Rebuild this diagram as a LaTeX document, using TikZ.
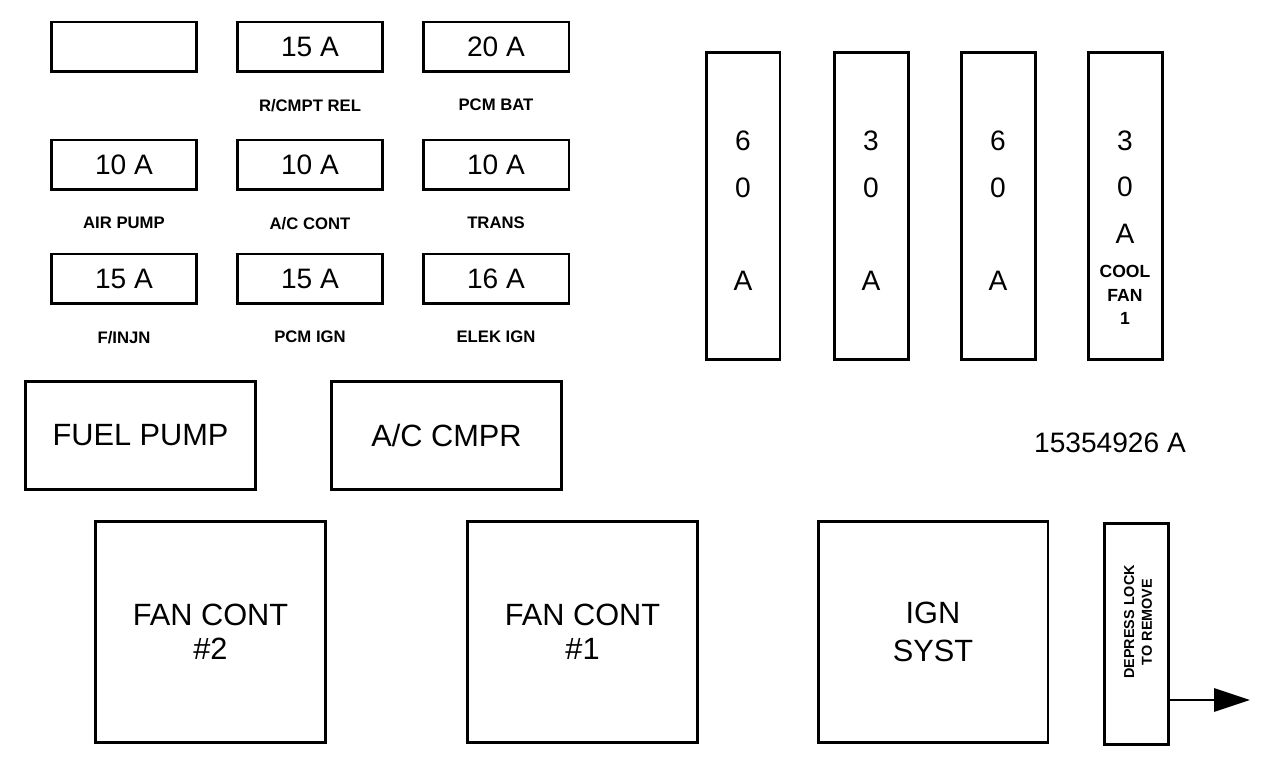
\documentclass[tikz,border=0pt]{standalone}
\usepackage{fontspec}
\setmainfont{Liberation Sans}
\usetikzlibrary{positioning,arrows.meta}

\begin{document}
\begin{tikzpicture}[
  x=0.02cm, y=-0.02cm,
  fuse/.style={draw, line width=1.7pt, minimum width=2.92cm, minimum height=1cm,
    inner sep=0pt, font=\fontsize{16}{18}\selectfont},
  lbl/.style={font=\fontsize{9.5}{11}\selectfont\bfseries, inner sep=1pt},
  maxi/.style={draw, line width=1.7pt, minimum width=1.48cm, minimum height=6.16cm, inner sep=0pt},
  amp/.style={align=center, inner sep=0pt, font=\fontsize{16}{26.5}\selectfont},
  relay/.style={draw, line width=1.7pt, minimum width=4.6cm, minimum height=2.18cm,
    font=\fontsize{17.5}{20}\selectfont},
  big/.style={draw, line width=1.7pt, minimum width=4.6cm, minimum height=4.44cm,
    align=center, font=\fontsize{17.5}{19.5}\selectfont},
  >=Latex, line width=1.7pt, node distance=0.45cm
]
\useasboundingbox (0,0) rectangle (1280,766);

\node[fuse] (blank) at (124,47) {};
\node[fuse] (rcmpt) at (310,47) {15 A};
\node[fuse] (pcmbat) at (496,47) {20 A};
\node[lbl, below=of rcmpt] (rcmptl) {R/CMPT REL};
\node[lbl, below=of pcmbat] (pcmbatl) {PCM BAT};

\node[fuse] (airpump) at (124,165) {10 A};
\node[fuse] (accont) at (310,165) {10 A};
\node[fuse] (trans) at (496,165) {10 A};
\node[lbl, below=of airpump] (airpumpl) {AIR PUMP};
\node[lbl, below=of accont] (accontl) {A/C CONT};
\node[lbl, below=of trans] (transl) {TRANS};

\node[fuse] (finjn) at (124,279) {15 A};
\node[fuse] (pcmign) at (310,279) {15 A};
\node[fuse] (elek) at (496,279) {16 A};
\node[lbl, below=of finjn] (finjnl) {F/INJN};
\node[lbl, below=of pcmign] (pcmignl) {PCM IGN};
\node[lbl, below=of elek] (elekl) {ELEK IGN};

\node[maxi] (maxi1) at (743,206) {};
\node[maxi] (maxi2) at (871,206) {};
\node[maxi] (maxi3) at (998,206) {};
\node[maxi] (maxi4) at (1125,206) {};
\node[amp] (amp1) at (743,211) {6\\0\\[26.5pt]A};
\node[amp] (amp2) at (871,211) {3\\0\\[26.5pt]A};
\node[amp] (amp3) at (998,211) {6\\0\\[26.5pt]A};
\node[amp] (amp4) at (1125,187) {3\\0\\A};
\node[align=center, inner sep=0pt, font=\fontsize{10}{13.5}\selectfont\bfseries] (cool) at (1125,295) {COOL\\FAN\\1};

\node[relay] (fuel) at (140.5,435.5) {FUEL PUMP};
\node[relay] (cmpr) at (446.5,435.5) {A/C CMPR};
\node[font=\fontsize{16}{18}\selectfont] (part) at (1110,443) {15354926 A};

\node[big] (fan2) at (210.5,632) {FAN CONT\\\#2};
\node[big] (fan1) at (582.5,632) {FAN CONT\\\#1};
\node[big, font=\fontsize{17.5}{21.5}\selectfont] (ign) at (933,632) {IGN\\SYST};
\node[draw, line width=1.7pt, minimum width=1.28cm, minimum height=4.44cm] (lock) at (1136,634) {};
\node[rotate=90, align=center, inner sep=0pt, font=\fontsize{8.2}{10}\selectfont\bfseries] (locktxt) at (1138,622) {DEPRESS LOCK\\TO REMOVE};

\coordinate (pull) at (1250,700);
\draw[-{Triangle[length=0.72cm, width=0.46cm]}] (lock.east |- pull) -- (pull);
\end{tikzpicture}
\end{document}
